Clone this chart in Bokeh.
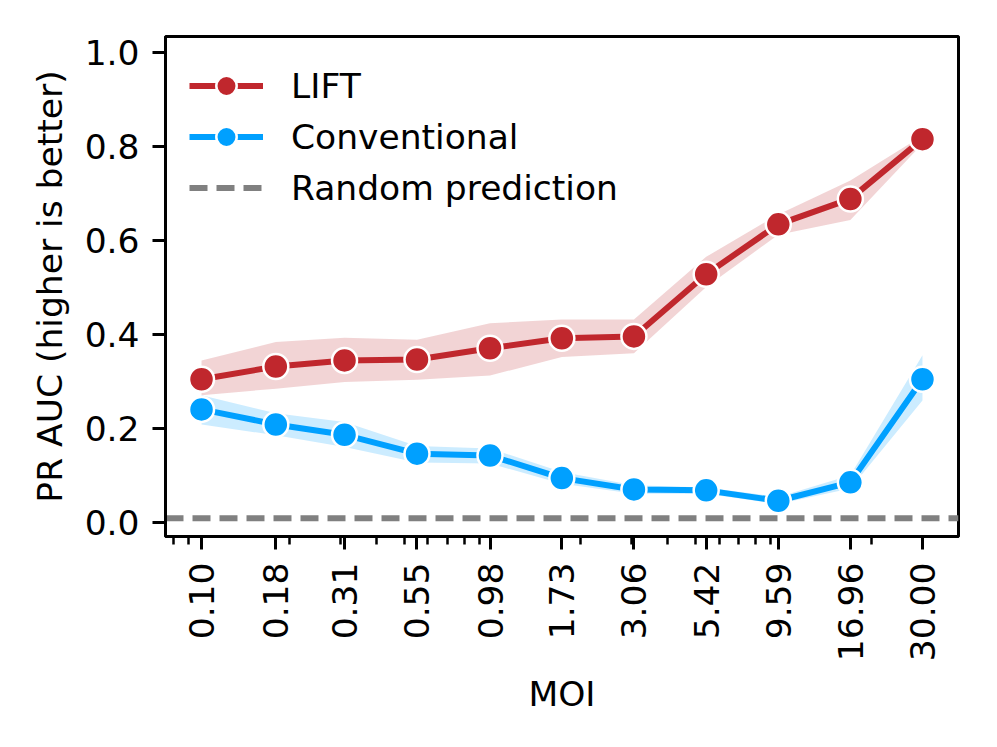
import numpy as np
from bokeh.plotting import figure
from bokeh.models import (Range1d, FixedTicker, CustomJSTickFormatter,
                          Legend, LegendItem, ColumnDataSource)
from bokeh.embed import file_html
from bokeh.resources import INLINE

# ---------------- data ----------------
moi = [0.10, 0.18, 0.31, 0.55, 0.98, 1.73, 3.06, 5.42, 9.59, 16.96, 30.00]
lift_mean = [0.305, 0.332, 0.345, 0.347, 0.371, 0.392, 0.396, 0.528, 0.634, 0.688, 0.815]
lift_low = [0.271, 0.285, 0.299, 0.304, 0.313, 0.352, 0.360, 0.501, 0.612, 0.643, 0.805]
lift_high = [0.345, 0.384, 0.393, 0.389, 0.424, 0.432, 0.432, 0.565, 0.655, 0.727, 0.822]
conv_mean = [0.241, 0.209, 0.187, 0.147, 0.143, 0.095, 0.071, 0.069, 0.047, 0.086, 0.305]
conv_low = [0.209, 0.186, 0.161, 0.128, 0.126, 0.083, 0.062, 0.062, 0.040, 0.073, 0.260]
conv_high = [0.271, 0.233, 0.214, 0.163, 0.158, 0.108, 0.080, 0.075, 0.055, 0.101, 0.356]
random_level = 0.01
y_ticks = [0.0, 0.2, 0.4, 0.6, 0.8, 1.0]
labels = ["LIFT", "Conventional", "Random prediction"]

# ---------------- style ----------------
RED = "#c0272d"
BLUE = "#00a0ff"
GRAY = "#808080"
FONT = "DejaVu Sans"
FS = "34.5px"

x_lo, x_hi = 0.0752, 39.9
y_lo, y_hi = -0.029, 1.033

p = figure(width=988, height=738, x_axis_type="log",
           x_range=Range1d(x_lo, x_hi), y_range=Range1d(y_lo, y_hi),
           output_backend="svg", toolbar_location=None,
           min_border_left=165, min_border_right=30,
           min_border_top=36, min_border_bottom=202)
p.grid.visible = False
p.outline_line_color = "black"
p.outline_line_width = 3
p.outline_line_alpha = 1.0

src_l = ColumnDataSource(dict(x=moi, y=lift_mean, lo=lift_low, hi=lift_high))
src_c = ColumnDataSource(dict(x=moi, y=conv_mean, lo=conv_low, hi=conv_high))
src_r = ColumnDataSource(dict(x=[x_lo, x_hi], y=[random_level, random_level]))

r_line = p.line("x", "y", source=src_r, line_color=GRAY, line_width=6, line_dash="18 9")

p.varea(x="x", y1="lo", y2="hi", source=src_l, fill_color=RED, fill_alpha=0.2)
l_line = p.line("x", "y", source=src_l, line_color=RED, line_width=6, line_join="round")
l_pts = p.scatter("x", "y", source=src_l, size=25, fill_color=RED,
                  line_color="white", line_width=2.5)

p.varea(x="x", y1="lo", y2="hi", source=src_c, fill_color=BLUE, fill_alpha=0.2)
c_line = p.line("x", "y", source=src_c, line_color=BLUE, line_width=6, line_join="round")
c_pts = p.scatter("x", "y", source=src_c, size=25, fill_color=BLUE,
                  line_color="white", line_width=2.5)

legend = Legend(items=[LegendItem(label=labels[0], renderers=[l_line, l_pts]),
                       LegendItem(label=labels[1], renderers=[c_line, c_pts]),
                       LegendItem(label=labels[2], renderers=[r_line])],
                location="top_left")
legend.border_line_color = None
legend.background_fill_alpha = 0
legend.label_text_font = FONT
legend.label_text_font_size = FS
legend.label_text_color = "black"
legend.glyph_width = 74
legend.glyph_height = 51
legend.label_height = 51
legend.spacing = 0
legend.padding = 0
legend.margin = 24
legend.label_standoff = 28
p.add_layout(legend)

# ---------------- axes ----------------
minor = [m * 10.0 ** e for e in (-2, -1, 0, 1) for m in range(2, 10)]
minor = [t for t in minor if x_lo <= t <= x_hi]
p.xaxis.ticker = FixedTicker(ticks=moi, minor_ticks=minor)
p.xaxis.formatter = CustomJSTickFormatter(code="return tick.toFixed(2);")
p.xaxis.major_label_orientation = np.pi / 2
p.xaxis.axis_label = "MOI"
p.xaxis.minor_tick_out = 8
p.xaxis.minor_tick_in = 0
p.xaxis.minor_tick_line_width = 2.5

p.yaxis.ticker = FixedTicker(ticks=y_ticks)
p.yaxis.formatter = CustomJSTickFormatter(code="return tick.toFixed(1);")
p.yaxis.axis_label = "PR AUC (higher is better)"
p.yaxis.minor_tick_line_color = None

for ax in (p.xaxis, p.yaxis):
    ax.axis_line_width = 3
    ax.axis_line_color = "black"
    ax.major_tick_out = 13
    ax.major_tick_in = 0
    ax.major_tick_line_width = 3
    ax.major_label_standoff = 13
    ax.major_label_text_font = FONT
    ax.major_label_text_font_size = FS
    ax.major_label_text_color = "black"
    ax.axis_label_text_font = FONT
    ax.axis_label_text_font_size = FS
    ax.axis_label_text_font_style = "normal"
    ax.axis_label_text_color = "black"
p.xaxis.axis_label_standoff = 10
p.yaxis.axis_label_standoff = 12

open("out.html", "w").write(file_html(p, INLINE))
